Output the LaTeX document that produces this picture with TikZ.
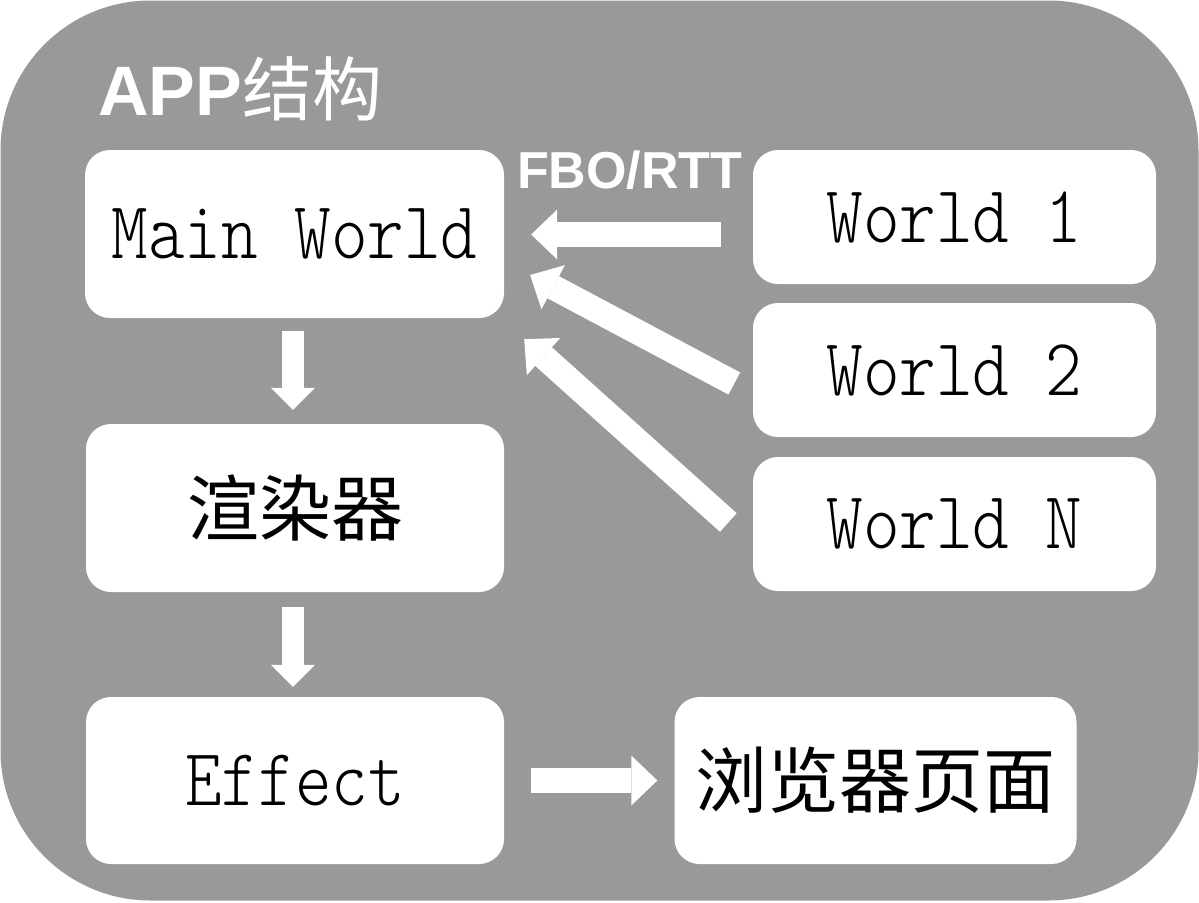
\documentclass[tikz,border=0pt]{standalone}
\usepackage{fontspec}
\usepackage{graphicx}
\setmainfont{Liberation Sans}
\newfontfamily\cjk{Noto Sans CJK SC}
\newfontfamily\lightmono{Latin Modern Mono Light}
\usetikzlibrary{arrows.meta}
\definecolor{bg}{HTML}{999999}
\newcommand\monolabel[1]{\scalebox{1}[1.17]{\fontsize{69.7}{80}\selectfont\lightmono #1}}
\newcommand\cjklabel[1]{{\fontsize{72}{80}\selectfont\cjk #1}}
\begin{document}
\begin{tikzpicture}[x=1pt,y=-1pt,
  box/.style={fill=white,rounded corners=25pt,inner sep=0pt,text=black},
  arr/.style={draw=white,line width=25pt,-{Triangle[width=50pt,length=26pt,line width=0pt]}},
  darr/.style={draw=white,line width=22pt,-{Triangle[width=44pt,length=22pt,line width=0pt]}},
  lbl/.style={text=white,inner sep=0pt}]
\useasboundingbox (0,0) rectangle (1199,902);
\fill[bg,rounded corners=150pt] (0.5,0.5) rectangle (1198.5,900.5);

\node[lbl,anchor=base west] (title) at (98,115) {\fontsize{70}{80}\selectfont\bfseries APP{\mdseries\cjk 结构}};
\node[lbl,anchor=base west] (fbo) at (517,188) {\fontsize{52}{60}\selectfont\bfseries FBO/RTT};

\node[box,minimum width=419pt,minimum height=168pt] (main) at (294.5,234) {\monolabel{Main World}};
\node[box,minimum width=418pt,minimum height=168pt] (ren) at (295,508) {\cjklabel{渲染器}};
\node[box,minimum width=418pt,minimum height=167pt] (eff) at (295,780.5) {\monolabel{Effect}};
\node[box,minimum width=403pt,minimum height=134pt] (w1) at (954.5,217) {\monolabel{World 1}};
\node[box,minimum width=403pt,minimum height=134pt] (w2) at (954.5,370) {\monolabel{World 2}};
\node[box,minimum width=403pt,minimum height=134pt] (wn) at (954.5,524) {\monolabel{World N}};
\node[box,minimum width=402pt,minimum height=167pt] (br) at (875.5,780.5) {\cjklabel{浏览器页面}};

\draw[arr] ([xshift=-32pt,yshift=-17.5pt]w1.west) -- ([xshift=27pt,yshift=-0.5pt]main.east);
\draw[arr] ([xshift=-18.5pt,yshift=-13.5pt]w2.west) -- ([xshift=26pt,yshift=-41pt]main.east);
\draw[arr] ([xshift=-24.5pt,yshift=1.5pt]wn.west) -- ([xshift=20pt,yshift=-21pt]main.south east);
\draw[darr] ([xshift=-1.5pt,yshift=-13pt]main.south) -- ([xshift=-2pt,yshift=14pt]ren.north);
\draw[darr] ([xshift=-2pt,yshift=-15pt]ren.south) -- ([xshift=-2pt,yshift=10pt]eff.north);
\draw[arr] ([xshift=27pt]eff.east) -- ([xshift=-17pt]br.west);
\end{tikzpicture}
\end{document}
